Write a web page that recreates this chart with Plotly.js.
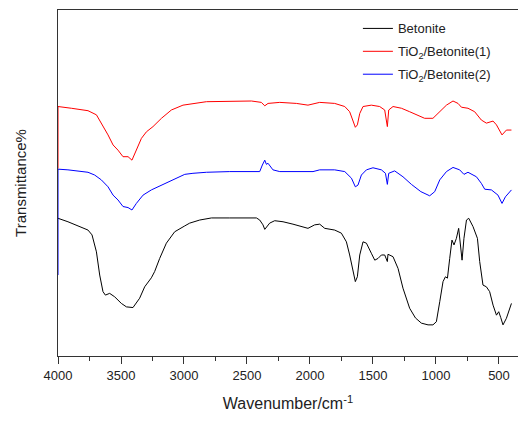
<!DOCTYPE html>
<html>
<head>
<meta charset="utf-8">
<script src="https://cdn.plot.ly/plotly-3.0.1.min.js"></script>
<style>
html, body { margin: 0; padding: 0; background: #fff; }
#chart { width: 518px; height: 428px; }
</style>
</head>
<body>
<div id="chart"></div>
<script>
// Series names
var seriesNames = ["Betonite", "TiO<sub>2</sub>/Betonite(1)", "TiO<sub>2</sub>/Betonite(2)"];

// Betonite (black)
var blackWn = [4000,3921,3762,3730,3695,3669,3643,3624,3590,3550,3497,3457,3405,3352,3312,3259,3233,3193,3140,3074,2994,2955,2875,2782,2637,2425,2399,2373,2359,2341,2320,2280,2214,2135,2016,1963,1923,1883,1804,1751,1711,1685,1659,1640,1624,1605,1579,1552,1513,1486,1460,1433,1407,1386,1381,1341,1301,1262,1209,1163,1116,1063,1024,997,970,944,925,909,891,873,857,838,820,806,793,778,758,740,706,671,653,627,600,574,547,520,502,486,468,441,401];
var blackT = [39.8,38.8,36.4,35.0,30.1,23.4,18.6,17.6,18.1,17.1,15.2,14.2,14.0,16.7,20.0,22.6,24.4,28.2,32.6,35.9,37.6,38.4,39.3,39.9,39.9,39.9,39.3,37.9,36.6,37.6,38.4,39.1,38.8,38.1,36.9,37.9,38.1,36.9,36.4,35.5,33.0,29.2,24.4,21.5,22.9,29.2,33.0,32.6,29.7,27.7,28.2,29.2,29.2,27.3,29.4,28.7,25.3,19.6,13.8,11.0,9.5,9.0,9.0,9.9,15.7,21.5,22.9,22.5,28.2,33.5,32.1,34.0,36.9,33.0,27.7,34.0,39.3,39.8,37.4,34.0,27.3,20.5,20.0,18.6,14.7,11.8,12.8,11.1,9.0,10.9,15.2];

// TiO2/Betonite(1) (red)
var redWn = [4000,4000,3894,3762,3695,3656,3603,3563,3524,3484,3444,3413,3378,3338,3298,3246,3179,3100,3008,2822,2465,2386,2359,2333,2240,2108,2016,1923,1804,1724,1685,1659,1640,1624,1605,1579,1513,1447,1407,1386,1375,1341,1274,1209,1129,1090,1024,970,917,865,825,798,746,693,640,600,547,520,476,441,401];
var redT = [54.2,72.1,71.6,70.9,69.7,67.3,63.9,61.0,59.5,57.6,57.6,56.6,59.5,62.9,64.8,66.3,68.7,71.1,72.5,73.5,73.7,73.3,72.3,73.0,73.3,73.0,72.5,73.3,73.0,72.1,70.6,68.2,66.1,66.8,70.1,72.1,72.5,72.1,71.1,66.3,71.1,72.1,71.6,70.6,69.2,68.7,68.7,70.6,72.5,73.7,73.0,71.9,71.6,70.6,68.2,67.3,67.9,66.8,63.9,65.3,65.3];

// TiO2/Betonite(2) (blue)
var blueWn = [4000,4000,3921,3841,3762,3709,3656,3603,3563,3524,3484,3444,3413,3378,3325,3259,3206,3127,3048,2994,2929,2822,2637,2399,2378,2359,2346,2333,2294,2240,1976,1923,1804,1724,1671,1640,1619,1592,1552,1500,1433,1401,1386,1375,1328,1262,1195,1120,1050,1010,970,917,865,812,778,746,679,640,613,560,508,476,449,401];
var blueT = [23.4,54.0,53.8,53.5,53.1,52.3,50.9,48.9,46.5,45.1,43.2,42.9,42.2,44.1,46.5,48.0,48.9,50.4,51.8,52.5,52.8,53.1,53.3,53.3,55.2,56.6,55.4,55.7,53.8,53.3,53.3,53.8,53.8,53.3,51.4,48.9,49.4,52.3,53.8,54.4,53.8,52.8,49.6,52.8,53.5,51.8,49.6,47.5,46.3,47.5,50.9,53.3,54.5,53.8,52.5,53.1,51.8,49.9,48.2,48.0,46.5,44.1,46.0,48.0];

var FONT = "Liberation Sans, Arial, Helvetica, sans-serif";

var traces = [
  {x: blackWn, y: blackT, name: seriesNames[0], legendgroup: "g1", type: "scatter", mode: "lines", line: {color: "#000000", width: 1}},
  {x: redWn, y: redT, name: seriesNames[1], legendgroup: "g2", type: "scatter", mode: "lines", line: {color: "#ff0000", width: 1}},
  {x: blueWn, y: blueT, name: seriesNames[2], legendgroup: "g3", type: "scatter", mode: "lines", line: {color: "#0000ff", width: 1}}
];

var layout = {
  width: 518, height: 428,
  margin: {l: 58, r: 0, t: 10, b: 72, pad: 0},
  paper_bgcolor: "#ffffff", plot_bgcolor: "#ffffff",
  font: {family: FONT, color: "#222222", size: 13},
  showlegend: true,
  legend: {x: 0.652, y: 0.99, xanchor: "left", yanchor: "top", bgcolor: "rgba(0,0,0,0)",
           tracegroupgap: 3,
           font: {family: FONT, size: 13, color: "#222222"}},
  xaxis: {
    range: [4000, 349], showgrid: false, zeroline: false,
    showline: true, linecolor: "#333333", linewidth: 1, mirror: true,
    ticks: "outside", ticklen: 7, tickwidth: 1, tickcolor: "#333333",
    tick0: 0, dtick: 500,
    minor: {ticks: "outside", ticklen: 4, tickwidth: 1, tickcolor: "#333333", dtick: 250, showgrid: false},
    tickfont: {family: FONT, size: 13, color: "#222222"},
    title: {text: "Wavenumber/cm<sup>-1</sup>", font: {family: FONT, size: 16, color: "#222222"}, standoff: 16}
  },
  yaxis: {
    range: [0, 100], showgrid: false, zeroline: false,
    showline: true, linecolor: "#333333", linewidth: 1,
    ticks: "", showticklabels: false,
    title: {text: "Transmittance%", font: {family: FONT, size: 15, color: "#222222"}, standoff: 26}
  }
};

Plotly.newPlot("chart", traces, layout, {displayModeBar: false, staticPlot: true});
</script>
</body>
</html>
